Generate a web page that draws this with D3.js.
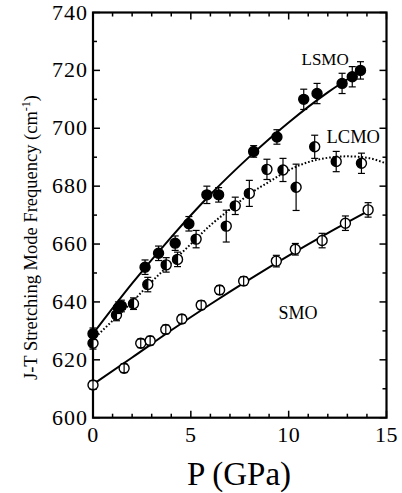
<!DOCTYPE html>
<html><head><meta charset="utf-8">
<script src="https://cdn.jsdelivr.net/npm/d3@7"></script>
<style>body{margin:0;background:#fff}svg{display:block}text{font-family:"Liberation Serif","Times New Roman",serif;fill:#000}</style>
</head><body>
<script>
// ---- data ----
const lsmoP   = [0, 1.3, 1.45, 2.66, 3.35, 4.2, 4.9, 5.82, 6.42, 8.21, 9.4, 10.77, 11.45, 12.73, 13.25, 13.67];
const lsmoF   = [629, 638, 638.6, 652, 656.8, 660.3, 667, 677, 677, 692, 697, 710, 712, 715.5, 717.8, 720];
const lsmoErr = [2, 2, 2, 2.5, 2.5, 2.5, 2.5, 3, 2.5, 2, 2.5, 3.5, 3.5, 3.5, 3.5, 3];

const lcmoP   = [0, 1.2, 2.07, 2.8, 3.74, 4.32, 5.27, 6.81, 7.27, 7.99, 8.89, 9.71, 10.38, 11.33, 12.43, 13.72];
const lcmoF   = [625.7, 635.5, 639.4, 646, 652.8, 654.7, 661.7, 666.2, 673.2, 677.5, 685.8, 685.6, 679.6, 693.6, 688.5, 687.9];
const lcmoErr = [2, 2, 2, 2.5, 2.5, 2.5, 3, 5.5, 3, 4.5, 3.5, 4, 8, 4, 3.5, 3.5];

const smoP    = [0, 1.59, 2.44, 2.92, 3.72, 4.54, 5.53, 6.47, 7.7, 9.37, 10.34, 11.71, 12.9, 14.06];
const smoF    = [611.3, 617.1, 625.7, 626.6, 630.5, 634.1, 638.9, 644.1, 647.2, 654.1, 658.2, 661.2, 667.2, 671.8];
const smoErr  = [1.5, 1.5, 1.5, 1.5, 1.5, 1.5, 1.5, 1.5, 1.5, 2, 2, 2.5, 2.5, 2.5];

// fitted curves
const lsmoFitP = [0, 2, 4, 6, 8, 10, 12, 13.8];
const lsmoFitF = [629, 646.4, 662.4, 677.1, 690.2, 702, 712.4, 720.3];
const lcmoFitP = [0, 1, 2, 3, 4, 5, 6, 7, 8, 9, 10, 11, 12, 13, 14, 15];
const lcmoFitF = [627, 633.5, 640, 647, 653.5, 660, 666.5, 672, 677.3, 681.5, 685.5, 688.3, 689.8, 690.3, 689.8, 687.8];
const smoFitP  = [0, 2, 4, 6, 8, 10, 12, 14.06];
const smoFitF  = [611.5, 620.8, 630.2, 639.2, 647.8, 656, 663.8, 671.4];

const xTicks = [0, 5, 10, 15];
const yTicks = [600, 620, 640, 660, 680, 700, 720, 740];
const labels = ["LSMO", "LCMO", "SMO"];

// ---- layout ----
const W = 402, H = 493;
const L = 93, R = 386.5, T = 12.5, B = 417.7;
const svg = d3.select("body").append("svg").attr("width", W).attr("height", H);
const x = d3.scaleLinear().domain([0, 15]).range([L, R]);
const y = d3.scaleLinear().domain([600, 740]).range([B, T]);

// ticks (inward, all four sides)
const minorX = d3.range(0, 15.01, 1), minorY = d3.range(600, 740.01, 10);
const tg = svg.append("g").attr("stroke", "#000").attr("stroke-width", 1.5);
minorX.forEach(v => {
  const len = (v % 5 === 0) ? 7 : 4;
  tg.append("line").attr("x1", x(v)).attr("x2", x(v)).attr("y1", B).attr("y2", B - len);
  tg.append("line").attr("x1", x(v)).attr("x2", x(v)).attr("y1", T).attr("y2", T + len);
});
minorY.forEach(v => {
  const len = (v % 20 === 0) ? 7 : 4;
  tg.append("line").attr("y1", y(v)).attr("y2", y(v)).attr("x1", L).attr("x2", L + len);
  tg.append("line").attr("y1", y(v)).attr("y2", y(v)).attr("x1", R).attr("x2", R - len);
});
// frame
svg.append("rect").attr("x", L).attr("y", T).attr("width", R - L).attr("height", B - T)
  .attr("fill", "none").attr("stroke", "#000").attr("stroke-width", 2.2);

// tick labels
svg.append("g").selectAll("text").data(xTicks).join("text")
  .attr("x", d => x(d)).attr("y", B + 24).attr("text-anchor", "middle")
  .attr("font-size", 22).attr("letter-spacing", 0.5).text(d => d);
svg.append("g").selectAll("text").data(yTicks).join("text")
  .attr("x", L - 5).attr("y", d => y(d) + 7).attr("text-anchor", "end")
  .attr("font-size", 22).attr("letter-spacing", 1).text(d => d);

// axis titles
svg.append("text").attr("x", 239).attr("y", 485).attr("text-anchor", "middle")
  .attr("font-size", 33).text("P (GPa)");
const yt = svg.append("text").attr("transform", "translate(37,237.5) rotate(-90)")
  .attr("text-anchor", "middle").attr("font-size", 18.5);
yt.append("tspan").text("J-T Stretching Mode Frequency (cm");
yt.append("tspan").attr("dy", -7).attr("font-size", 12).text("-1");
yt.append("tspan").attr("dy", 7).text(")");

// fit curves
const line = d3.line().x(d => x(d[0])).y(d => y(d[1])).curve(d3.curveMonotoneX);
svg.append("path").datum(d3.zip(lsmoFitP, lsmoFitF)).attr("d", line)
  .attr("fill", "none").attr("stroke", "#000").attr("stroke-width", 2);
svg.append("path").datum(d3.zip(smoFitP, smoFitF)).attr("d", line)
  .attr("fill", "none").attr("stroke", "#000").attr("stroke-width", 2);
svg.append("path").datum(d3.zip(lcmoFitP, lcmoFitF)).attr("d", line)
  .attr("fill", "none").attr("stroke", "#000").attr("stroke-width", 2).attr("stroke-dasharray", "1.6,2");

// points
const r = 5;
function drawSeries(P, F, E, kind) {
  const g = svg.append("g");
  const data = d3.zip(P, F, E);
  const pg = g.selectAll("g").data(data).join("g")
    .attr("transform", d => `translate(${x(d[0])},${y(d[1])})`);
  pg.append("circle").attr("r", r)
    .attr("fill", kind === "filled" ? "#000" : "#fff")
    .attr("stroke", "#000").attr("stroke-width", 1.4);
  if (kind === "half") {
    pg.append("path").attr("d", `M0,${-r} A${r},${r} 0 0 0 0,${r} Z`).attr("fill", "#000");
  }
  // error bars
  pg.append("line").attr("x1", 0).attr("x2", 0)
    .attr("y1", d => y(d[1] + d[2]) - y(d[1])).attr("y2", d => y(d[1] - d[2]) - y(d[1]))
    .attr("stroke", "#000").attr("stroke-width", 1.2);
  pg.append("line").attr("x1", -3.5).attr("x2", 3.5)
    .attr("y1", d => y(d[1] + d[2]) - y(d[1])).attr("y2", d => y(d[1] + d[2]) - y(d[1]))
    .attr("stroke", "#000").attr("stroke-width", 1.2);
  pg.append("line").attr("x1", -3.5).attr("x2", 3.5)
    .attr("y1", d => y(d[1] - d[2]) - y(d[1])).attr("y2", d => y(d[1] - d[2]) - y(d[1]))
    .attr("stroke", "#000").attr("stroke-width", 1.2);
}
drawSeries(smoP, smoF, smoErr, "open");
drawSeries(lcmoP, lcmoF, lcmoErr, "half");
drawSeries(lsmoP, lsmoF, lsmoErr, "filled");

// series labels
svg.append("text").attr("x", 301.5).attr("y", 65).attr("font-size", 17).text(labels[0]);
svg.append("text").attr("x", 326.5).attr("y", 142.5).attr("font-size", 18.5).text(labels[1]);
svg.append("text").attr("x", 278.5).attr("y", 319.3).attr("font-size", 18).text(labels[2]);
</script>
</body></html>
